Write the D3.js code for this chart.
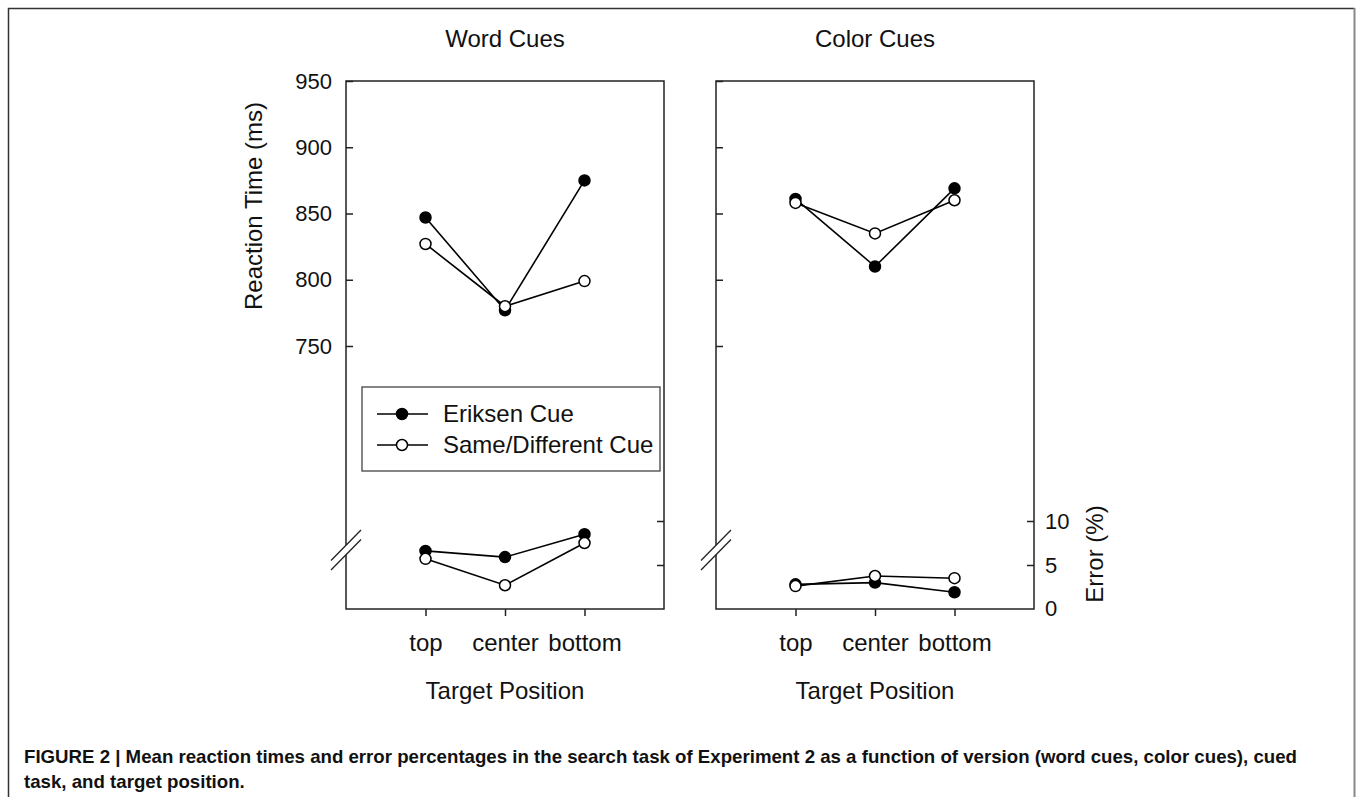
<!DOCTYPE html>
<html>
<head>
<meta charset="utf-8">
<script src="https://cdn.jsdelivr.net/npm/d3@7"></script>
<style>
  body { margin: 0; background: #fff; }
  text { font-family: "Liberation Sans", Arial, sans-serif; fill: #111; }
</style>
</head>
<body>
<script>
let positions = ['top', 'center', 'bottom'];
let rtTicks = [750, 800, 850, 900, 950];
let errTicks = [0, 5, 10];

let wordRtEriksen = [847, 777, 875];
let wordRtSameDiff = [827, 780, 799];
let wordErrEriksen = [6.6, 5.9, 8.5];
let wordErrSameDiff = [5.7, 2.7, 7.5];

let colorRtEriksen = [861, 810, 869];
let colorRtSameDiff = [858, 835, 860];
let colorErrEriksen = [2.8, 3.0, 1.9];
let colorErrSameDiff = [2.6, 3.75, 3.5];

let legendLabels = ['Eriksen Cue', 'Same/Different Cue'];

let w = 1357;
let h = 797;
let plotTop = 81, plotBottom = 609;
let pw = 318;

let svg = d3.select('body')
    .append('svg')
    .attr('width', w)
    .attr('height', h);

// figure frame
svg.append('path')
    .attr('d', `M8.5,${h} V8.5 H1354.5`)
    .attr('fill', 'none')
    .attr('stroke', '#333')
    .attr('stroke-width', 1.5);
svg.append('line')
    .attr('x1', 1354.5).attr('x2', 1354.5)
    .attr('y1', 8).attr('y2', h)
    .attr('stroke', '#888')
    .attr('stroke-width', 2);

let rt = d3.scaleLinear().domain([750, 950]).range([346, 81]);
let err = d3.scaleLinear().domain([0, 10]).range([609, 521]);
let x = d3.scalePoint().domain(positions).range([0, pw]).padding(1);

let drawPanel = (left, title, rtE, rtS, errE, errS, showLeft, showRight, showLegend) => {
    let g = svg.append('g').attr('transform', `translate(${left},0)`);

    g.append('text')
        .attr('x', pw / 2)
        .attr('y', 47)
        .attr('text-anchor', 'middle')
        .style('font-size', '24px')
        .text(title);

    g.append('rect')
        .attr('x', 0).attr('y', plotTop)
        .attr('width', pw).attr('height', plotBottom - plotTop)
        .attr('fill', 'none')
        .attr('stroke', '#222')
        .attr('stroke-width', 1.5);

    let yAxis = g.append('g')
        .call(d3.axisLeft(rt).tickValues(rtTicks).tickSizeInner(-7).tickSizeOuter(0).tickPadding(14)
            .tickFormat(showLeft ? d3.format('d') : () => ''));
    yAxis.select('.domain').remove();
    yAxis.selectAll('line').attr('stroke', '#222').attr('stroke-width', 1.5);
    yAxis.selectAll('text').style('font-size', '22px').attr('fill', '#111');

    let eAxis = g.append('g')
        .attr('transform', `translate(${pw},0)`)
        .call(d3.axisRight(err).tickValues(errTicks.filter(d => d > 0)).tickSizeInner(-7).tickSizeOuter(0).tickPadding(11)
            .tickFormat(showRight ? d3.format('d') : () => ''));
    eAxis.select('.domain').remove();
    eAxis.selectAll('line').attr('stroke', '#222').attr('stroke-width', 1.5);
    eAxis.selectAll('text').style('font-size', '22px').attr('fill', '#111');

    if (showRight) {
        g.append('text')
            .attr('x', pw + 11)
            .attr('y', err(0))
            .attr('dy', '0.32em')
            .style('font-size', '22px')
            .text(errTicks[0]);
    }

    let xAxis = g.append('g')
        .attr('transform', `translate(0,${plotBottom})`)
        .call(d3.axisBottom(x).tickSizeInner(7).tickSizeOuter(0).tickPadding(18));
    xAxis.select('.domain').remove();
    xAxis.selectAll('line').attr('stroke', '#222').attr('stroke-width', 1.5);
    xAxis.selectAll('text').style('font-size', '24px').attr('fill', '#111');

    g.append('text')
        .attr('x', pw / 2)
        .attr('y', 699)
        .attr('text-anchor', 'middle')
        .style('font-size', '24px')
        .text('Target Position');

    // axis break marks
    let brk = g.append('g').attr('transform', 'translate(0,551)');
    brk.append('path')
        .attr('d', 'M-15,9.5 L15,-21 L15,-11.5 L-15,19 Z')
        .attr('fill', '#fff');
    [0, 9.5].forEach(o => {
        brk.append('line')
            .attr('x1', -15).attr('y1', 9.5 + o)
            .attr('x2', 15).attr('y2', -21 + o)
            .attr('stroke', '#222')
            .attr('stroke-width', 1.3);
    });

    let series = [
        { rt: rtE, err: errE, fill: '#000' },
        { rt: rtS, err: errS, fill: '#fff' }
    ];
    let line = (sc) => d3.line().x((d, i) => x(positions[i])).y(d => sc(d));

    series.forEach(s => {
        [[s.rt, rt], [s.err, err]].forEach(([vals, sc]) => {
            g.append('path')
                .datum(vals)
                .attr('d', line(sc))
                .attr('fill', 'none')
                .attr('stroke', '#000')
                .attr('stroke-width', 1.6);
            g.selectAll(null)
                .data(vals)
                .enter()
                .append('circle')
                .attr('cx', (d, i) => x(positions[i]))
                .attr('cy', d => sc(d))
                .attr('r', 5.5)
                .attr('fill', s.fill)
                .attr('stroke', '#000')
                .attr('stroke-width', 1.5);
        });
    });

    if (showLegend) {
        let lg = g.append('g').attr('transform', 'translate(16,387)');
        lg.append('rect')
            .attr('width', 298).attr('height', 84)
            .attr('fill', '#fff')
            .attr('stroke', '#444')
            .attr('stroke-width', 1.3);
        legendLabels.forEach((lab, i) => {
            let yy = 27 + i * 31;
            lg.append('line')
                .attr('x1', 15).attr('x2', 66)
                .attr('y1', yy).attr('y2', yy)
                .attr('stroke', '#000').attr('stroke-width', 1.6);
            lg.append('circle')
                .attr('cx', 40).attr('cy', yy).attr('r', 5.5)
                .attr('fill', i === 0 ? '#000' : '#fff')
                .attr('stroke', '#000').attr('stroke-width', 1.5);
            lg.append('text')
                .attr('x', 81).attr('y', yy)
                .attr('dy', '0.35em')
                .style('font-size', '24px')
                .text(lab);
        });
    }
    return g;
};

drawPanel(346, 'Word Cues', wordRtEriksen, wordRtSameDiff, wordErrEriksen, wordErrSameDiff, true, false, true);
drawPanel(716, 'Color Cues', colorRtEriksen, colorRtSameDiff, colorErrEriksen, colorErrSameDiff, false, true, false);

svg.append('text')
    .attr('transform', `translate(262,206) rotate(-90)`)
    .attr('text-anchor', 'middle')
    .style('font-size', '24px')
    .text('Reaction Time (ms)');

svg.append('text')
    .attr('transform', `translate(1103,554) rotate(-90)`)
    .attr('text-anchor', 'middle')
    .style('font-size', '24px')
    .text('Error (%)');

// caption
let cap1 = svg.append('text')
    .attr('x', 24).attr('y', 763)
    .style('font-size', '19px')
    .style('font-weight', 'bold')
    .text('FIGURE 2 | Mean reaction times and error percentages in the search task of Experiment 2 as a function of version (word cues, color cues), cued');
let cap2 = svg.append('text')
    .attr('x', 24).attr('y', 788)
    .style('font-size', '19px')
    .style('font-weight', 'bold')
    .text('task, and target position.');
let ratio = 1273 / cap1.node().getComputedTextLength();
cap1.attr('textLength', 1273).attr('lengthAdjust', 'spacingAndGlyphs');
cap2.attr('textLength', cap2.node().getComputedTextLength() * ratio).attr('lengthAdjust', 'spacingAndGlyphs');
</script>
</body>
</html>
